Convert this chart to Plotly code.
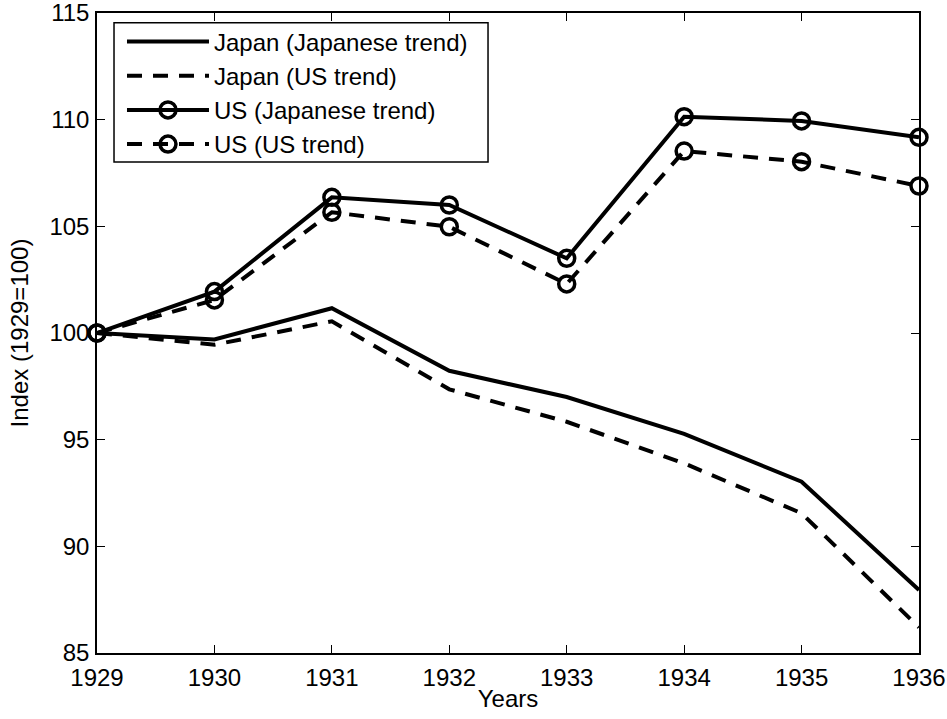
import plotly.graph_objects as go

years = [1929, 1930, 1931, 1932, 1933, 1934, 1935, 1936]
japan_jp_trend = [100, 99.70, 101.16, 98.23, 97.00, 95.27, 93.03, 87.95]
japan_us_trend = [100, 99.45, 100.55, 97.36, 95.84, 93.89, 91.55, 86.20]
us_jp_trend = [100, 101.94, 106.36, 106.00, 103.50, 110.14, 109.94, 109.17]
us_us_trend = [100, 101.55, 105.66, 104.98, 102.30, 108.53, 108.03, 106.89]

names = ["Japan (Japanese trend)", "Japan (US trend)", "US (Japanese trend)", "US (US trend)"]
y_ticks = [85, 90, 95, 100, 105, 110, 115]

FONT = "Liberation Sans, Arial, Helvetica, sans-serif"
LW = 4
DASH = "15px,11px"

fig = go.Figure()
fig.add_trace(go.Scatter(x=years, y=japan_jp_trend, mode="lines", name=names[0],
                         line=dict(color="black", width=LW), cliponaxis=False))
fig.add_trace(go.Scatter(x=years, y=japan_us_trend, mode="lines", name=names[1],
                         line=dict(color="black", width=LW, dash=DASH), cliponaxis=False))
fig.add_trace(go.Scatter(x=years, y=us_jp_trend, mode="lines+markers", name=names[2],
                         line=dict(color="black", width=LW),
                         marker=dict(symbol="circle-open", size=16, color="black",
                                     line=dict(width=3.5, color="black")),
                         cliponaxis=False))
fig.add_trace(go.Scatter(x=years, y=us_us_trend, mode="lines+markers", name=names[3],
                         line=dict(color="black", width=LW, dash=DASH),
                         marker=dict(symbol="circle-open", size=16, color="black",
                                     line=dict(width=3.5, color="black")),
                         cliponaxis=False))

axis_common = dict(
    showgrid=False, zeroline=False, showline=True, linecolor="black", linewidth=1.5,
    mirror="allticks", ticks="inside", ticklen=8, tickwidth=1, tickcolor="black",
    tickfont=dict(family=FONT, size=24, color="black"), automargin=False,
    ticklabeloverflow="allow",
)

# legend frame
fig.add_shape(type="rect", xref="paper", yref="paper",
              x0=0.0207, x1=0.4757, y0=0.7672, y1=0.9848,
              fillcolor="white", line=dict(color="black", width=1.5), layer="above")

fig.update_layout(
    width=947, height=719,
    paper_bgcolor="white", plot_bgcolor="white",
    margin=dict(l=97, r=28, t=13, b=66),
    font=dict(family=FONT, size=24, color="black"),
    xaxis=dict(range=[1929, 1936], tickmode="array", tickvals=years,
               ticktext=[str(y) for y in years],
               title=dict(text="Years", font=dict(family=FONT, size=24), standoff=1),
               ticklabelstandoff=2,
               **axis_common),
    yaxis=dict(range=[85, 115], tickmode="array", tickvals=y_ticks,
               title=dict(text="Index (1929=100)", font=dict(family=FONT, size=24), standoff=14),
               ticklabelstandoff=1,
               **axis_common),
    legend=dict(x=0.0304, y=0.990, xanchor="left", yanchor="top",
                bgcolor="rgba(0,0,0,0)", borderwidth=0,
                font=dict(family=FONT, size=24, color="black"),
                itemwidth=82, tracegroupgap=0),
    showlegend=True,
)

fig.write_html("out.html", config={"displayModeBar": False},
               post_script="document.body.style.margin='0';document.body.style.padding='0';")
